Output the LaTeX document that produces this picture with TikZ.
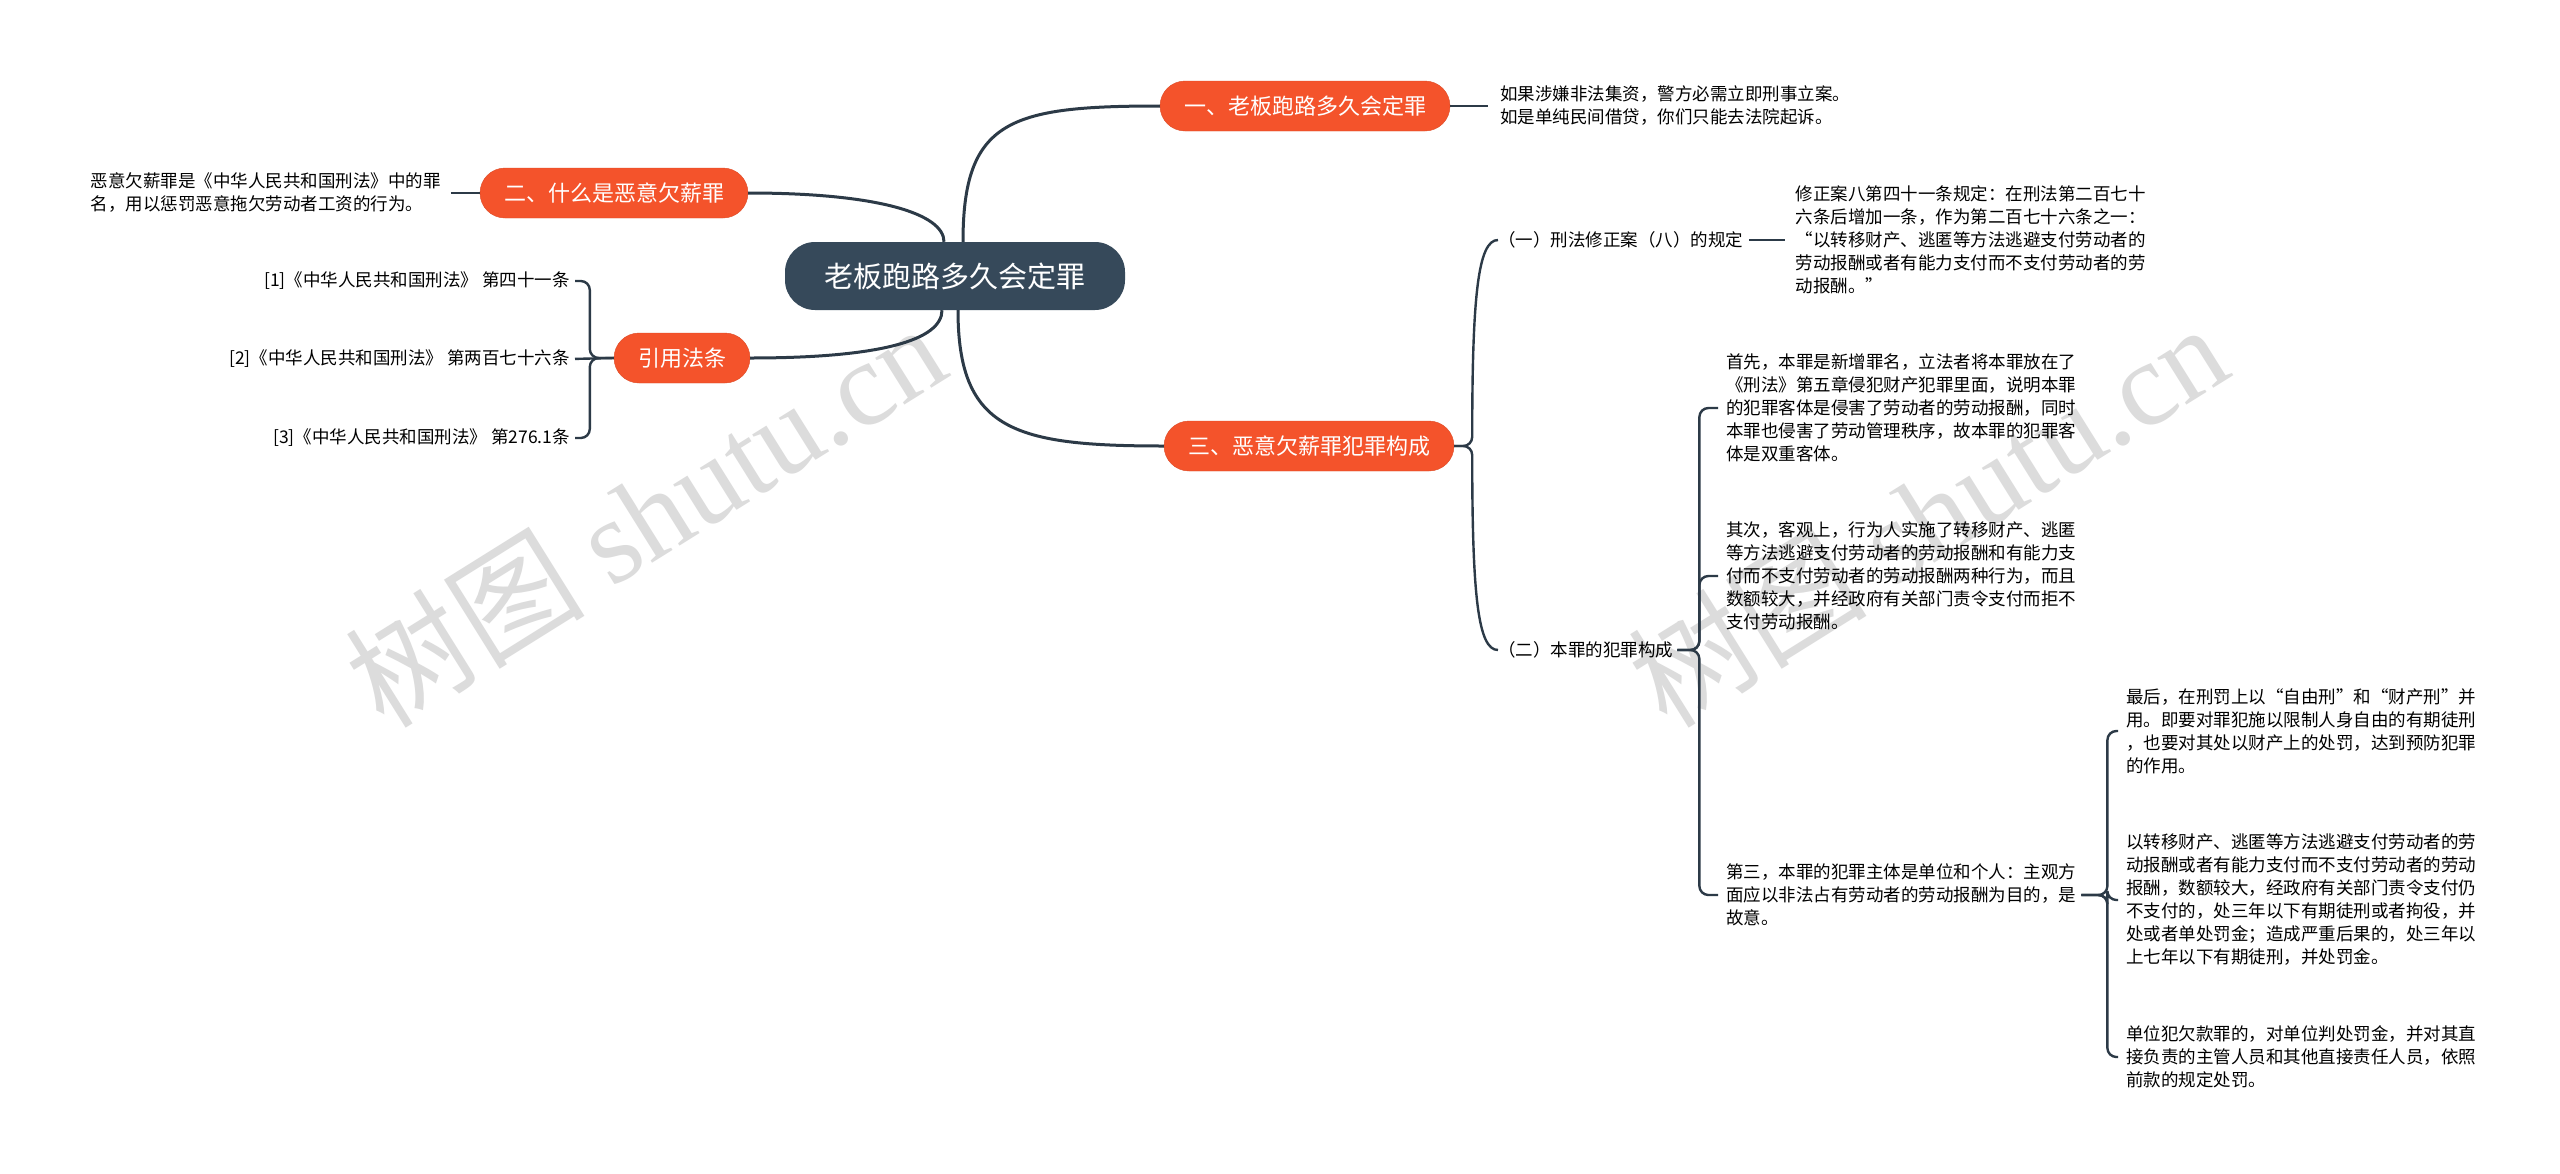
\documentclass[tikz,border=0pt]{standalone}
\usepackage{fontspec}
\setmainfont{Noto Sans CJK SC}
\newfontfamily\wmlatin{Liberation Serif}
\usetikzlibrary{positioning}
\definecolor{mapRoot}{HTML}{36495A}
\definecolor{mapTopic}{HTML}{F4532B}
\definecolor{mapLine}{HTML}{2C3A47}
\definecolor{mapMark}{HTML}{DCDCDC}
\tikzset{
  mroot/.style={fill=mapRoot,text=white,rounded corners=30pt,minimum width=340pt,
    minimum height=68pt,font=\fontsize{29}{34}\selectfont},
  mtopic/.style={fill=mapTopic,draw=mapTopic!90!black,text=white,rounded corners=25pt,
    minimum height=50pt,inner xsep=24pt,font=\fontsize{22}{26}\selectfont},
  mleaf/.style={align=left,inner sep=0pt,font=\fontsize{17.5}{23}\selectfont},
  mmain/.style={draw=mapLine,line width=3pt},
  msub/.style={draw=mapLine,line width=2.4pt,rounded corners=9pt},
  wmark/.style={text=mapMark,font=\fontsize{120}{120}\selectfont,rotate=32},
}

\begin{document}
\begin{tikzpicture}[x=1pt,y=-1pt]
\useasboundingbox (0,0) rectangle (2560,1173);
\fill[white] (0,0) rectangle (2560,1173);
% watermarks
\node[wmark] (wm1) at (645,514) {树图 {\wmlatin shutu.cn}};
\node[wmark] (wm2) at (1927,514) {树图 {\wmlatin shutu.cn}};

\node[mroot] (root) at (955,276) {老板跑路多久会定罪};
\node[mtopic] (t1) at (1305,106) {一、老板跑路多久会定罪};
\node[mtopic] (t2) at (614,193) {二、什么是恶意欠薪罪};
\node[mtopic] (t4) at (682,358) {引用法条};
\node[mtopic] (t3) at (1309,446) {三、恶意欠薪罪犯罪构成};

\node[mleaf,right=50pt of t1] (l1) {如果涉嫌非法集资，警方必需立即刑事立案。\\如是单纯民间借贷，你们只能去法院起诉。};
\node[mleaf,left=39pt of t2] (l2) {恶意欠薪罪是《中华人民共和国刑法》中的罪\\名，用以惩罚恶意拖欠劳动者工资的行为。};

\node[mleaf,anchor=east] (r1) at (570,281) {[1]《中华人民共和国刑法》 第四十一条};
\node[mleaf,anchor=east] (r2) at (570,359) {[2]《中华人民共和国刑法》 第两百七十六条};
\node[mleaf,anchor=east] (r3) at (570,438) {[3]《中华人民共和国刑法》 第276.1条};

\node[mleaf,anchor=west] (s1) at (1498,240) {（一）刑法修正案（八）的规定};
\node[mleaf,anchor=west] (s2) at (1498,650) {（二）本罪的犯罪构成};
\node[mleaf,right=52pt of s1] (s1a) {修正案八第四十一条规定：在刑法第二百七十\\六条后增加一条，作为第二百七十六条之一：\\“以转移财产、逃匿等方法逃避支付劳动者的\\劳动报酬或者有能力支付而不支付劳动者的劳\\动报酬。”};

\node[mleaf,anchor=west] (c1) at (1726,408) {首先，本罪是新增罪名，立法者将本罪放在了\\《刑法》第五章侵犯财产犯罪里面，说明本罪\\的犯罪客体是侵害了劳动者的劳动报酬，同时\\本罪也侵害了劳动管理秩序，故本罪的犯罪客\\体是双重客体。};
\node[mleaf,anchor=west] (c2) at (1726,576) {其次，客观上，行为人实施了转移财产、逃匿\\等方法逃避支付劳动者的劳动报酬和有能力支\\付而不支付劳动者的劳动报酬两种行为，而且\\数额较大，并经政府有关部门责令支付而拒不\\支付劳动报酬。};
\node[mleaf,anchor=west] (c3) at (1726,895) {第三，本罪的犯罪主体是单位和个人：主观方\\面应以非法占有劳动者的劳动报酬为目的，是\\故意。};

\node[mleaf,anchor=west] (g1) at (2126,731) {最后，在刑罚上以“自由刑”和“财产刑”并\\用。即要对罪犯施以限制人身自由的有期徒刑\\，也要对其处以财产上的处罚，达到预防犯罪\\的作用。};
\node[mleaf,anchor=west] (g2) at (2126,900) {以转移财产、逃匿等方法逃避支付劳动者的劳\\动报酬或者有能力支付而不支付劳动者的劳动\\报酬，数额较大，经政府有关部门责令支付仍\\不支付的，处三年以下有期徒刑或者拘役，并\\处或者单处罚金；造成严重后果的，处三年以\\上七年以下有期徒刑，并处罚金。};
\node[mleaf,anchor=west] (g3) at (2126,1057) {单位犯欠款罪的，对单位判处罚金，并对其直\\接负责的主管人员和其他直接责任人员，依照\\前款的规定处罚。};

% main branches
\draw[mmain] ([xshift=8pt]root.north) .. controls +(0,-122) and +(-150,0) .. (t1.west);
\draw[mmain] ([xshift=3pt]root.south) .. controls +(0,120) and +(-150,0) .. (t3.west);
\draw[mmain] (t2.east) .. controls +(130,0) and +(0,-28) .. ([xshift=-11pt]root.north);
\draw[mmain] (t4.east) .. controls +(130,0) and +(0,30) .. ([xshift=-13pt]root.south);

% leaves
\draw[msub,shorten >=12pt] (t1.east) -- (t1.east -| l1.west);
\draw[msub,shorten <=10pt] (l2.east) -- (l2.east -| t2.west);
\draw[msub,shorten >=5pt] (t4.west) -- ++(-24,0) |- (r1.east);
\draw[msub,shorten >=5pt] (t4.west) -- (r2.east);
\draw[msub,shorten >=5pt] (t4.west) -- ++(-24,0) |- (r3.east);

\draw[msub] (t3.east) -- ++(18,0) .. controls +(0,-150) and +(-20,0) .. (s1.west);
\draw[msub] (t3.east) -- ++(18,0) .. controls +(0,150) and +(-20,0) .. (s2.west);
\draw[msub,shorten <=6pt,shorten >=10pt] (s1.east) -- (s1.east -| s1a.west);

\draw[msub,shorten <=4pt,shorten >=8pt] (s2.east) -- ++(26,0) |- (c1.west);
\draw[msub,shorten <=4pt,shorten >=8pt] (s2.east) -- ++(26,0) |- (c2.west);
\draw[msub,shorten <=4pt,shorten >=8pt] (s2.east) -- ++(26,0) |- (c3.west);

\draw[msub,shorten <=5pt,shorten >=8pt] (c3.east) -- ++(31,0) |- (g1.west);
\draw[msub,shorten <=5pt,shorten >=8pt] (c3.east) -- ++(31,0) |- (g2.west);
\draw[msub,shorten <=5pt,shorten >=8pt] (c3.east) -- ++(31,0) |- (g3.west);
\end{tikzpicture}
\end{document}
